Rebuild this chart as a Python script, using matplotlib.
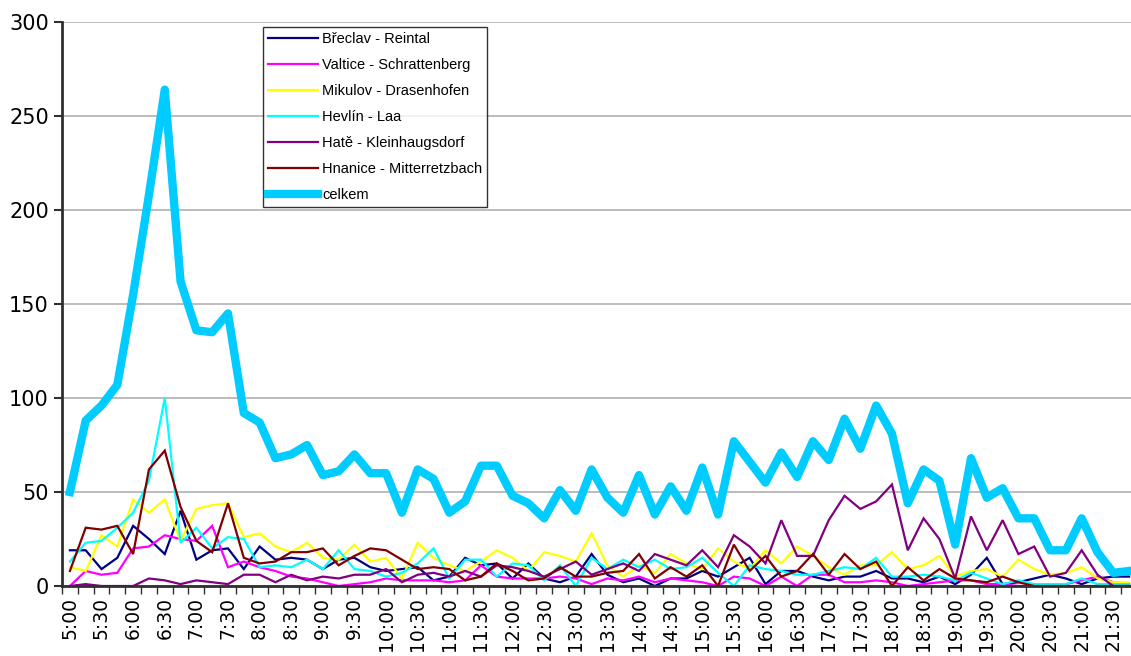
import matplotlib
matplotlib.use("Agg")
import matplotlib.pyplot as plt
from matplotlib.ticker import MultipleLocator, FixedLocator

# časy po 15 minutách 5:00 .. 21:45
times = [f"{5 + q // 4}:{(q % 4) * 15:02d}" for q in range(68)]

breclav = [19, 19, 9, 15, 32, 25, 17, 40, 14, 19, 20, 9, 21, 14, 15, 14, 9, 14, 15, 10,
           8, 9, 10, 3, 5, 15, 11, 12, 4, 12, 4, 2, 5, 17, 6, 2, 4, 0, 4, 4,
           8, 5, 10, 15, 1, 8, 8, 5, 3, 5, 5, 8, 4, 4, 2, 5, 1, 6, 15, 1,
           2, 4, 6, 4, 1, 4, 5, 5]
valtice = [0, 8, 6, 7, 20, 21, 27, 25, 24, 32, 10, 13, 10, 8, 5, 4, 2, 0, 1, 2,
           4, 3, 3, 3, 2, 3, 11, 5, 4, 4, 4, 5, 4, 1, 4, 3, 5, 2, 4, 3,
           2, 0, 5, 4, 0, 5, 0, 6, 6, 2, 2, 3, 2, 0, 1, 2, 3, 3, 1, 1,
           0, 0, 1, 1, 3, 5, 2, 1]
mikulov = [10, 8, 27, 21, 46, 39, 46, 24, 41, 43, 44, 26, 28, 21, 18, 23, 15, 14, 22, 13,
           15, 4, 23, 15, 11, 8, 13, 19, 15, 8, 18, 16, 13, 28, 11, 5, 11, 7, 17, 12,
           9, 20, 13, 9, 19, 12, 21, 16, 10, 6, 11, 11, 18, 9, 11, 16, 5, 8, 9, 5,
           14, 9, 6, 7, 10, 4, 2, 2]
hevlin = [13, 23, 24, 31, 39, 56, 100, 23, 31, 20, 26, 25, 10, 11, 10, 14, 9, 19, 9, 8,
          5, 7, 12, 20, 4, 14, 14, 5, 12, 11, 3, 11, 0, 15, 9, 14, 10, 14, 9, 10,
          15, 7, 0, 11, 9, 8, 6, 6, 8, 10, 9, 15, 5, 5, 6, 5, 3, 7, 4, 1,
          3, 1, 1, 1, 4, 1, 1, 1]
hate = [0, 1, 0, 0, 0, 4, 3, 1, 3, 2, 1, 6, 6, 2, 6, 3, 5, 4, 6, 6,
        9, 2, 6, 7, 5, 8, 5, 11, 10, 8, 5, 9, 13, 6, 9, 12, 8, 17, 14, 11,
        19, 10, 27, 21, 12, 35, 16, 16, 35, 48, 41, 45, 54, 19, 36, 25, 4, 37, 19, 35,
        17, 21, 5, 7, 19, 6, 0, 0]
hnanice = [8, 31, 30, 32, 17, 62, 72, 42, 24, 18, 44, 15, 12, 13, 18, 18, 20, 11, 16, 20,
           19, 14, 9, 10, 9, 3, 5, 12, 8, 3, 4, 10, 5, 5, 7, 8, 17, 4, 10, 5,
           11, 0, 22, 8, 16, 5, 8, 17, 6, 17, 9, 13, 0, 10, 3, 9, 4, 3, 2, 5,
           2, 0, 0, 0, 0, 0, 0, 0]
celkem = [50, 88, 96, 107, 155, 208, 264, 162, 136, 135, 145, 92, 87, 68, 70, 75, 59, 61, 70, 60,
          60, 39, 62, 57, 39, 45, 64, 64, 48, 44, 36, 51, 40, 62, 47, 39, 59, 38, 53, 40,
          63, 38, 77, 66, 55, 71, 58, 77, 67, 89, 73, 96, 81, 44, 62, 56, 22, 68, 47, 52,
          36, 36, 19, 19, 36, 18, 7, 8]

series = [
    ("Břeclav - Reintal", breclav, "#000080", 1.6),
    ("Valtice - Schrattenberg", valtice, "#FF00FF", 1.6),
    ("Mikulov - Drasenhofen", mikulov, "#FFFF00", 1.6),
    ("Hevlín - Laa", hevlin, "#00FFFF", 1.6),
    ("Hatě - Kleinhaugsdorf", hate, "#800080", 1.6),
    ("Hnanice - Mitterretzbach", hnanice, "#800000", 1.6),
    ("celkem", celkem, "#00CCFF", 6.0),
]

plt.rcParams["font.family"] = ["DejaVu Sans"]

W, H = 1131, 656
fig = plt.figure(figsize=(W / 100, H / 100), dpi=100)
ax = fig.add_axes([62 / W, 1 - 586 / H, (1137 - 62) / W, (586 - 22) / H])

x = list(range(len(times)))
for name, vals, col, lw in series:
    ax.plot(x, vals, color=col, lw=lw, label=name, solid_joinstyle="miter" if lw < 3 else "round")

ax.set_xlim(-0.5, len(times) - 0.5)
ax.set_ylim(0, 300)
ax.yaxis.set_major_locator(MultipleLocator(50))
ax.grid(axis="y", color="#b0b0b0", lw=1.2)
ax.set_axisbelow(True)

ax.xaxis.set_major_locator(FixedLocator(x[::2]))
ax.set_xticklabels(times[::2], rotation=90, fontsize=13.5)
ax.xaxis.set_minor_locator(FixedLocator([i - 0.5 for i in range(len(times) + 1)]))
ax.tick_params(axis="x", which="major", length=0, pad=8)
ax.tick_params(axis="x", which="minor", length=6, width=1, color="#303030")
ax.tick_params(axis="y", length=6, width=1.5, labelsize=15, color="#303030")

for s in ("top", "right"):
    ax.spines[s].set_visible(False)
for s in ("left", "bottom"):
    ax.spines[s].set_color("#303030")
    ax.spines[s].set_linewidth(2)

leg = ax.legend(loc="upper left", bbox_to_anchor=(263 / W, 1 - 27 / H),
                bbox_transform=fig.transFigure, borderaxespad=0,
                prop={"family": ["Liberation Sans", "DejaVu Sans"], "size": 10.5},
                frameon=True, fancybox=False, handlelength=3.4, handletextpad=0.3,
                labelspacing=0.82, borderpad=0.35)
leg.get_frame().set_edgecolor("black")
leg.get_frame().set_linewidth(1)

fig.savefig("out.png", dpi=100)
